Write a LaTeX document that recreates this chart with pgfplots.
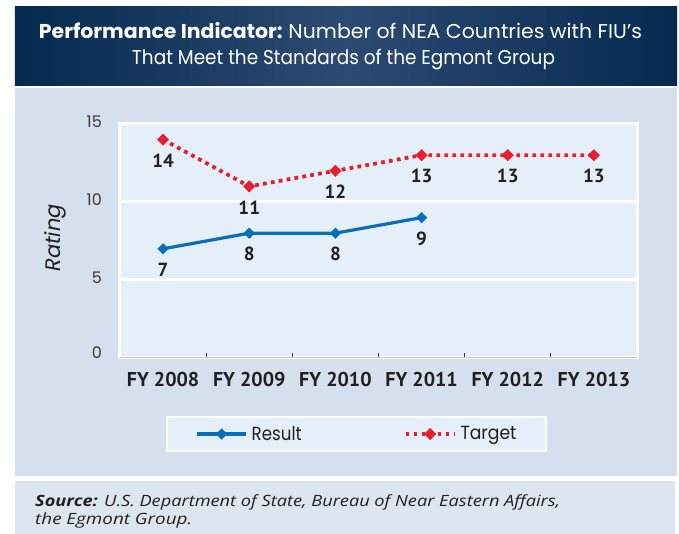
\documentclass[border=0pt]{standalone}
\usepackage{fontspec}
\usepackage{graphicx}
\usepackage{pgfplots}
\pgfplotsset{compat=1.18}
\setmainfont{Poppins}
\newfontfamily\ptsans{PT Sans}
\newfontfamily\srcfont{Open Sans}
\definecolor{navy}{HTML}{05294F}
\definecolor{navylight}{HTML}{2C4B72}
\definecolor{panel}{HTML}{D5DFED}
\definecolor{plotbg}{HTML}{E5EFF9}
\definecolor{srcbox}{HTML}{DDE5F1}
\definecolor{resblue}{HTML}{0B6FB8}
\definecolor{tgtred}{HTML}{E5202E}
\definecolor{textdark}{HTML}{231F20}
\definecolor{ticklab}{HTML}{3A3A3A}
\pgfdeclarelayer{background}
\pgfsetlayers{background,main}
\begin{document}
\begin{tikzpicture}[x=1pt,y=1pt]
\begin{axis}[
  scale only axis, width=517pt, height=234pt,
  xmin=-0.5, xmax=5.5, ymin=0, ymax=15,
  clip=false,
  axis background/.style={fill=plotbg},
  axis line style={white, line width=3pt},
  ytick={0,5,10,15},
  yticklabels={\raisebox{6pt}{0},5,10,15},
  ymajorgrids, grid style={white, line width=3pt},
  ytick style={draw=none},
  major tick length=0pt,
  /pgf/number format/assume math mode=true,
  yticklabel style={inner sep=0pt, xshift=-18pt, yshift=2pt, text=ticklab, font=\fontsize{16}{18}\selectfont},
  xtick={0,1,2,3,4,5},
  xticklabels={FY 2008,FY 2009,FY 2010,FY 2011,FY 2012,FY 2013},
  xticklabel style={inner sep=0pt, yshift=-14pt, text=textdark, font=\ptsans\bfseries\fontsize{20}{24}\selectfont},
  xtick pos=bottom,
  extra x ticks={0.5,1.5,2.5,3.5,4.5},
  extra x tick labels={},
  extra x tick style={major tick length=5pt, tick style={draw=ticklab, line width=0.8pt}},
  ylabel={\itshape Rating},
  ylabel style={at={(axis description cs:-0.1257,0.513)}, anchor=center, text=textdark, font=\fontsize{21}{24}\selectfont},
  nodes near coords,
  every node near coord/.append style={anchor=center, yshift=-21pt, text=textdark, font=\ptsans\bfseries\fontsize{19}{22}\selectfont},
  legend columns=2,
  legend image code/.code={\draw[mark repeat=2,mark phase=2,#1] plot coordinates {(0pt,0pt) (24.5pt,0pt) (49pt,0pt)};},
  legend style={at={(0.4565,-0.325)}, anchor=center, draw=white, line width=2pt, fill=plotbg,
    inner xsep=29pt, inner ysep=9pt, text=textdark, font=\fontsize{19}{22}\selectfont,
    nodes={inner sep=0pt},
    /tikz/every odd column/.append style={column sep=4pt},
    /tikz/every even column/.append style={column sep=102pt}},
  after end axis/.code={\draw[gray!45, line width=1pt] (rel axis cs:0,0) -- (rel axis cs:1,0);
    \coordinate (AX) at (rel axis cs:0,0);},
]
\addplot[color=resblue, line width=3.2pt, mark=square*, mark size=3.7pt,
  mark options={rotate=45, solid, fill=resblue, draw=resblue, line width=0.5pt}]
  coordinates {(0,7) (1,8) (2,8) (3,9)};
\addlegendentry{\resizebox{50pt}{\height}{Result}}
\addplot[color=tgtred, line width=3.8pt, dash pattern=on 3.8pt off 4.2pt, mark=square*, mark size=4pt,
  mark options={rotate=45, solid, fill=tgtred, draw=tgtred, line width=0.5pt}]
  coordinates {(0,14) (1,11) (2,12) (3,13) (4,13) (5,13)};
\addlegendentry{\resizebox{56pt}{\height}{Target}}
\end{axis}
\begin{scope}[shift={(AX)}, xshift=-120pt, yshift=-176pt]
\useasboundingbox (0,0) rectangle (679,534);
\begin{pgfonlayer}{background}
\fill[white] (0,0) rectangle (679,534);
\shade[left color=navy, right color=navy, middle color=navylight] (15,448) rectangle (677,527);
\fill[panel] (15,58) rectangle (677,446);
\fill[srcbox] (15,0) rectangle (675,53);
\end{pgfonlayer}
\node[white, anchor=base, inner sep=0pt, font=\fontsize{20}{24}\selectfont] at (340.5,495)
  {\resizebox{603pt}{\height}{\bfseries Performance Indicator: \mdseries Number of NEA Countries with FIU's}};
\node[white, anchor=base, inner sep=0pt, font=\fontsize{20}{24}\selectfont] at (343.5,469)
  {\resizebox{423pt}{\height}{That Meet the Standards of the Egmont Group}};
\node[textdark, anchor=base west, inner sep=0pt, font=\srcfont\itshape\fontsize{15.5}{18}\selectfont] at (35,27)
  {\resizebox{525pt}{\height}{{\bfseries Source:} U.S. Department of State, Bureau of Near Eastern Affairs,}};
\node[textdark, anchor=base west, inner sep=0pt, font=\srcfont\itshape\fontsize{15.5}{18}\selectfont] at (35,9)
  {\resizebox{157pt}{\height}{the Egmont Group.}};
\end{scope}
\end{tikzpicture}
\end{document}
